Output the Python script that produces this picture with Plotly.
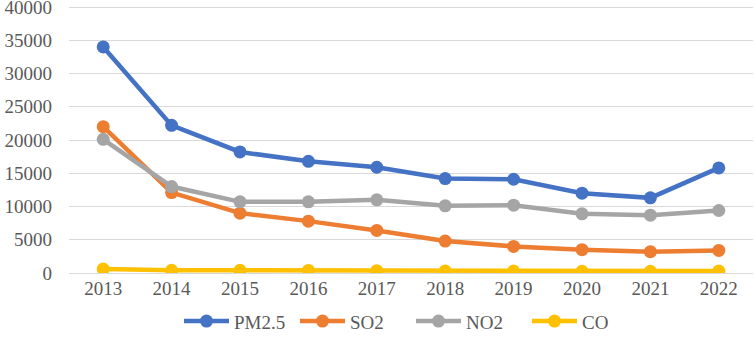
import plotly.graph_objects as go

years = ["2013", "2014", "2015", "2016", "2017", "2018", "2019", "2020", "2021", "2022"]
pm25 = [34000, 22200, 18200, 16800, 15900, 14200, 14100, 12000, 11300, 15800]
so2 = [22000, 12100, 9000, 7800, 6400, 4800, 4000, 3500, 3200, 3400]
no2 = [20100, 13000, 10700, 10700, 11000, 10100, 10200, 8900, 8700, 9400]
co = [600, 400, 400, 380, 350, 300, 300, 250, 250, 300]
y_ticks = [0, 5000, 10000, 15000, 20000, 25000, 30000, 35000, 40000]

series = [("PM2.5", pm25, "#4472C4"), ("SO2", so2, "#ED7D31"),
          ("NO2", no2, "#A5A5A5"), ("CO", co, "#FFC000")]

fig = go.Figure()
for name, vals, color in series:
    fig.add_trace(go.Scatter(x=years, y=vals, name=name, mode="lines+markers",
                             line=dict(color=color, width=4.5),
                             marker=dict(color=color, size=13)))

font = dict(family="Liberation Serif", size=19, color="#595959")
fig.update_layout(
    width=754, height=348,
    margin=dict(l=69, r=1, t=5, b=75, autoexpand=False),
    paper_bgcolor="white", plot_bgcolor="white",
    font=font,
    showlegend=True,
    legend=dict(orientation="h", x=0.5, xanchor="center", y=-0.18, yanchor="middle",
                font=font, itemwidth=45, tracegroupgap=0,
                entrywidth=56, entrywidthmode="pixels"),
    xaxis=dict(type="category", range=[-0.5, 9.5], showgrid=False, showline=False,
               ticks="", tickfont=font, automargin=False, ticklabelstandoff=2),
    yaxis=dict(range=[0, 40300], tickvals=y_ticks,
               ticktext=[str(v) for v in y_ticks],
               showgrid=True, gridcolor="#D9D9D9",
               gridwidth=1.3, zeroline=True, zerolinecolor="#D9D9D9", zerolinewidth=1.3,
               showline=False, ticks="", tickfont=font, automargin=False, ticklabelstandoff=16,
               ticklabeloverflow="allow"),
)
fig.write_html("out.html", config={"displayModeBar": False},
               post_script="document.body.style.margin='0';document.body.style.padding='0';")
